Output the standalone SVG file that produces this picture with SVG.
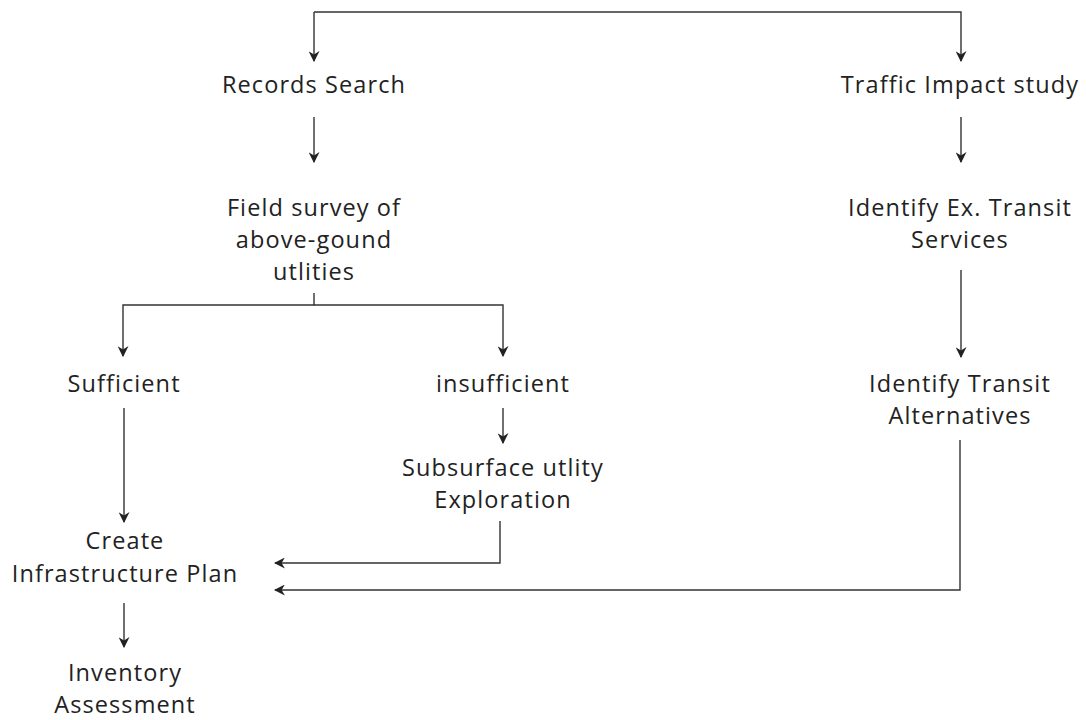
<svg xmlns="http://www.w3.org/2000/svg" width="1086" height="720" viewBox="0 0 1086 720">
  <style>
    .lbl { font-family: "Open Sans", "Noto Sans", "Liberation Sans", sans-serif; font-size: 23.5px; fill: #222; text-anchor: middle; letter-spacing: 1.1px; }
    .edge { fill: none; stroke: #333; stroke-width: 1.4; }
  </style>
  <defs>
    <marker id="arrow" viewBox="0 0 10 10" refX="9" refY="5" markerWidth="11" markerHeight="11" markerUnits="userSpaceOnUse" orient="auto">
      <path d="M0,0 L10,5 L0,10 L3,5 Z" fill="#222"/>
    </marker>
  </defs>
  <rect width="1086" height="720" fill="#fff"/>

  <g id="connectors">
    <path class="edge" d="M314,12 H961 V61" marker-end="url(#arrow)"/>
    <path class="edge" d="M314,12 V61" marker-end="url(#arrow)"/>
    <path class="edge" d="M314,117 V162" marker-end="url(#arrow)"/>
    <path class="edge" d="M961,117 V162" marker-end="url(#arrow)"/>
    <path class="edge" d="M314,293 V305 H123 V356" marker-end="url(#arrow)"/>
    <path class="edge" d="M314,305 H503 V356" marker-end="url(#arrow)"/>
    <path class="edge" d="M124,408 V522" marker-end="url(#arrow)"/>
    <path class="edge" d="M503,408 V443" marker-end="url(#arrow)"/>
    <path class="edge" d="M961,270 V357" marker-end="url(#arrow)"/>
    <path class="edge" d="M500,521 V563 H275" marker-end="url(#arrow)"/>
    <path class="edge" d="M960,440 V590 H275" marker-end="url(#arrow)"/>
    <path class="edge" d="M124,603 V647" marker-end="url(#arrow)"/>
  </g>

  <g id="records-search"><text class="lbl" x="314" y="93">Records Search</text></g>
  <g id="traffic-impact"><text class="lbl" x="960" y="93">Traffic Impact study</text></g>
  <g id="field-survey">
    <text class="lbl" x="314" y="216">Field survey of</text>
    <text class="lbl" x="314" y="248">above-gound</text>
    <text class="lbl" x="314" y="280">utlities</text>
  </g>
  <g id="ex-transit">
    <text class="lbl" x="960" y="216">Identify Ex. Transit</text>
    <text class="lbl" x="960" y="248">Services</text>
  </g>
  <g id="sufficient"><text class="lbl" x="124" y="392">Sufficient</text></g>
  <g id="insufficient"><text class="lbl" x="503" y="392">insufficient</text></g>
  <g id="transit-alternatives">
    <text class="lbl" x="960" y="392">Identify Transit</text>
    <text class="lbl" x="960" y="424">Alternatives</text>
  </g>
  <g id="subsurface">
    <text class="lbl" x="503" y="476">Subsurface utlity</text>
    <text class="lbl" x="503" y="508">Exploration</text>
  </g>
  <g id="infrastructure-plan">
    <text class="lbl" x="125" y="549">Create</text>
    <text class="lbl" x="125" y="582">Infrastructure Plan</text>
  </g>
  <g id="inventory">
    <text class="lbl" x="125" y="681">Inventory</text>
    <text class="lbl" x="125" y="713">Assessment</text>
  </g>
</svg>
